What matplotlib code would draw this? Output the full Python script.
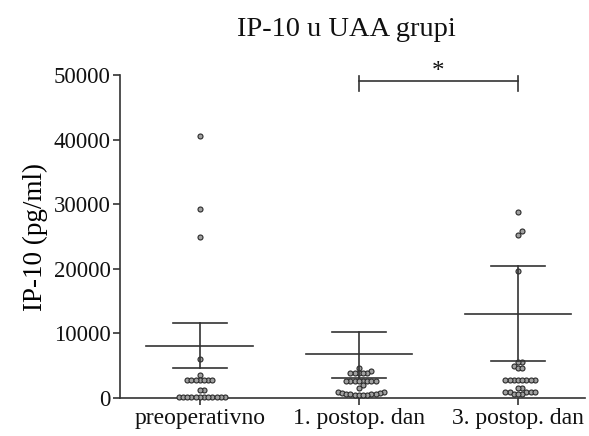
import matplotlib
matplotlib.use("Agg")
import matplotlib.pyplot as plt
import numpy as np

plt.rcParams['font.family'] = ['Liberation Serif', 'DejaVu Serif']

groups = ["preoperativno", "1. postop. dan", "3. postop. dan"]

# values (pg/ml)
preop = [40500, 29300, 24900, 6000, 3500,
         2800, 2800, 2800, 2800, 2800, 2800, 2800,
         1250, 1250,
         150, 150, 150, 150, 150, 150, 150, 150, 150, 150, 150, 150]
dan1 = [4700, 4200, 3900, 3900, 3900, 3900, 3900,
        2650, 2650, 2650, 2650, 2650, 2650, 2650, 2650,
        2000, 1500,
        900, 900, 800, 800, 700, 700, 600, 600, 500, 500, 450, 450]
dan3 = [28800, 25800, 25200, 19700, 5600, 5600, 5000, 4700, 4700,
        2800, 2800, 2800, 2800, 2800, 2800, 2800, 2800,
        1550, 1550,
        950, 950, 950, 950, 950, 600, 600, 600]
data = [preop, dan1, dan3]

# central line and error bar ends
center = [8090, 6850, 13070]
err_lo = [4670, 3110, 5760]
err_hi = [11670, 10270, 20400]

sig_pair = (1, 2)
sig_y = 49000

dark = '#333333'

fig = plt.figure(figsize=(5.89, 4.36), dpi=100)
ax = fig.add_axes([0.204, 0.087, 0.789, 0.741])
ax.set_xlim(-0.5, 2.42)
ax.set_ylim(0, 50000)


def swarm(vals, xc, d=4.2):
    # greedy beeswarm in pixel space
    tr = ax.transData
    placed = []
    xs = np.zeros(len(vals))
    order = np.argsort(vals)
    for i in order:
        px0, py = tr.transform((xc, vals[i]))
        k = 0
        while True:
            cands = [0] if k == 0 else [k * d, -k * d]
            ok = None
            for off in cands:
                if all((px0 + off - qx) ** 2 + (py - qy) ** 2 >= d * d - 1e-3
                       for qx, qy in placed):
                    ok = off
                    break
            if ok is not None:
                placed.append((px0 + ok, py))
                xs[i] = tr.inverted().transform((px0 + ok, py))[0]
                break
            k += 1
    return xs


for i, vals in enumerate(data):
    xs = swarm(vals, i)
    ax.plot(xs, vals, 'o', ms=3.6, mfc='#a0a0a0', mec='#2a2a2a', mew=0.8,
            zorder=3, clip_on=False)
    ax.plot([i - 0.335, i + 0.335], [center[i]] * 2, color=dark, lw=1.2, zorder=4)
    ax.plot([i, i], [err_lo[i], err_hi[i]], color=dark, lw=1.2, zorder=4)
    for v in (err_lo[i], err_hi[i]):
        ax.plot([i - 0.17, i + 0.17], [v, v], color=dark, lw=1.2, zorder=4)

a, b = sig_pair
ax.plot([a, b], [sig_y, sig_y], color=dark, lw=1.2, clip_on=False)
ax.plot([a, a], [sig_y - 1500, sig_y + 800], color=dark, lw=1.2, clip_on=False)
ax.plot([b, b], [sig_y - 1500, sig_y + 800], color=dark, lw=1.2, clip_on=False)
ax.text((a + b) / 2, sig_y - 300, '*', ha='center', va='bottom', fontsize=18,
        color='#111111')

ax.set_xticks(range(len(groups)))
ax.set_xticklabels(groups, fontsize=17)
ax.set_yticks(np.arange(0, 50001, 10000))
ax.set_yticklabels([str(v) for v in range(0, 50001, 10000)], fontsize=16.5)
ax.set_ylabel('IP-10 (pg/ml)', fontsize=19.5, labelpad=4)
for s in ('top', 'right'):
    ax.spines[s].set_visible(False)
for s in ('left', 'bottom'):
    ax.spines[s].set_color(dark)
    ax.spines[s].set_linewidth(1.2)
ax.tick_params(colors=dark, width=1.2, length=5, labelcolor='#111111', pad=2)

fig.text(346 / 589, 1 - 30 / 436, 'IP-10 u UAA grupi', ha='center', va='center',
         fontsize=20.5, color='#111111')

fig.savefig('out.png', dpi=100)
